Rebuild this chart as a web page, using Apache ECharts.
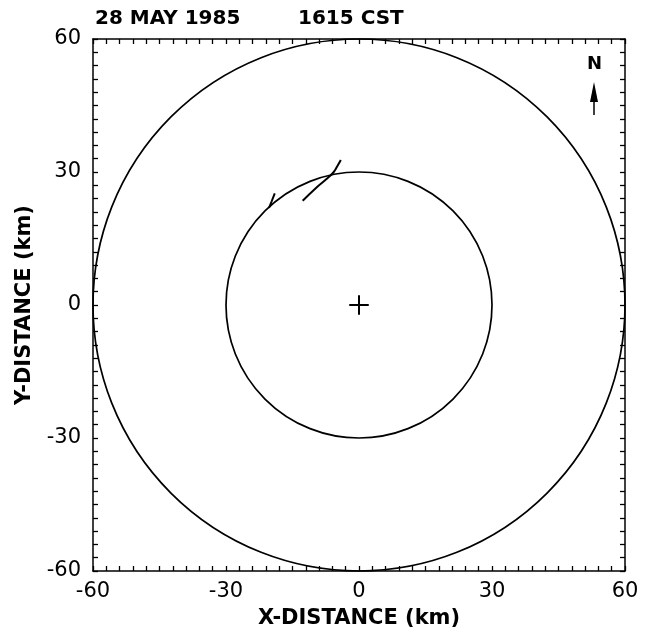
<!DOCTYPE html>
<html>
<head>
<meta charset="utf-8">
<script src="https://cdn.jsdelivr.net/npm/echarts@6/dist/echarts.min.js"></script>
<style>
  html, body { margin: 0; padding: 0; background: #fff; }
  #chart { width: 645px; height: 634px; }
</style>
</head>
<body>
<div id="chart"></div>
<script>
// range rings (km) centred on the radar
var ringCenter = [0, 0];
var ringRadii = [30, 60];
// radar position cross
var crossH = [[-2.2, 0], [2.2, 0]];
var crossV = [[0, -2.2], [0, 2.2]];
// traced feature segments
var segA = [[-12.7, 23.5], [-9.7, 26.4], [-7.0, 28.7], [-5.7, 30.0], [-4.9, 31.3], [-4.1, 32.7]];
var segB = [[-19.0, 25.2], [-19.7, 23.4], [-20.3, 21.9]];
var tickLabels = [-60, -30, 0, 30, 60];

var chart = echarts.init(document.getElementById('chart'));

var font = '"DejaVu Sans", Arial, sans-serif';
var axisBase = {
  type: 'value',
  min: tickLabels[0],
  max: tickLabels[tickLabels.length - 1],
  interval: 30,
  splitLine: { show: false },
  axisLine: { show: true, onZero: false, lineStyle: { color: '#000', width: 1.5 } },
  axisTick: { show: true, inside: true, length: 5, lineStyle: { color: '#000', width: 1.3 } },
  minorTick: { show: true, splitNumber: 10, length: 5, lineStyle: { color: '#000', width: 1.3 } }
};

function ax(extra) {
  return Object.assign({}, JSON.parse(JSON.stringify(axisBase)), extra);
}

var ringData = ringRadii.map(function (r) { return [ringCenter[0], ringCenter[1], r]; });

var option = {
  animation: false,
  backgroundColor: '#fff',
  grid: { left: 93, right: 20, top: 39, bottom: 62 },
  xAxis: [
    ax({
      position: 'bottom',
      name: 'X-DISTANCE (km)',
      nameLocation: 'middle',
      nameGap: 37,
      nameTextStyle: { color: '#000', fontSize: 21, fontWeight: 'bold', fontFamily: font },
      axisLabel: { color: '#000', fontSize: 21, fontFamily: font, margin: 10 }
    }),
    ax({ position: 'top', axisLabel: { show: false } })
  ],
  yAxis: [
    ax({
      position: 'left',
      name: 'Y-DISTANCE (km)',
      nameLocation: 'middle',
      nameGap: 58,
      nameTextStyle: { color: '#000', fontSize: 21, fontWeight: 'bold', fontFamily: font },
      axisLabel: { color: '#000', fontSize: 21, fontFamily: font, margin: 12 }
    }),
    ax({ position: 'right', axisLabel: { show: false } })
  ],
  graphic: [
    {
      type: 'text', left: 95, top: 9,
      style: { text: '28 MAY 1985', fill: '#000', font: 'bold 20px ' + font }
    },
    {
      type: 'text', left: 298, top: 9,
      style: { text: '1615 CST', fill: '#000', font: 'bold 20px ' + font }
    },
    {
      type: 'text', left: 587, top: 55,
      style: { text: 'N', fill: '#000', font: 'bold 18px ' + font }
    },
    {
      type: 'polygon',
      shape: { points: [[594, 82], [590, 102], [598, 102]] },
      style: { fill: '#000' }
    },
    {
      type: 'line',
      shape: { x1: 594, y1: 100, x2: 594, y2: 115 },
      style: { stroke: '#000', lineWidth: 1.5 }
    }
  ],
  series: [
    {
      type: 'custom',
      data: ringData,
      renderItem: function (params, api) {
        var c = api.coord([api.value(0), api.value(1)]);
        var s = api.size([api.value(2), api.value(2)]);
        return {
          type: 'circle',
          shape: { cx: c[0], cy: c[1], r: (s[0] + s[1]) / 2 },
          style: { fill: 'none', stroke: '#000', lineWidth: 1.7 }
        };
      }
    },
    {
      type: 'line', data: crossH, showSymbol: false,
      lineStyle: { color: '#000', width: 2 }
    },
    {
      type: 'line', data: crossV, showSymbol: false,
      lineStyle: { color: '#000', width: 2 }
    },
    {
      type: 'line', data: segA, showSymbol: false, smooth: true,
      lineStyle: { color: '#000', width: 2 }
    },
    {
      type: 'line', data: segB, showSymbol: false, smooth: true,
      lineStyle: { color: '#000', width: 2 }
    }
  ]
};
chart.setOption(option);
</script>
</body>
</html>
